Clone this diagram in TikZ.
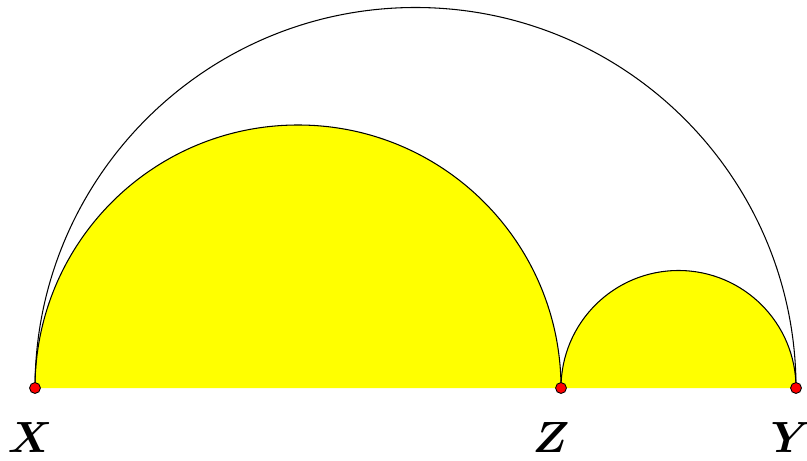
\documentclass[tikz,border=0pt]{standalone}
\usepackage{amsmath,bm}
\usepackage{xcolor}
\usepackage{tikz}
\definecolor{arbYellow}{HTML}{FFFF00}
\definecolor{arbRed}{HTML}{FF0000}

\begin{document}
\begin{tikzpicture}[
  x=0.02cm, y=0.02cm,
  arcline/.style={draw,black,line width=0.6pt},
  ptdot/.style={circle,draw=black,fill=arbRed,inner sep=0pt,
                minimum size=6.2pt,line width=0.5pt},
  ptlabel/.style={anchor=base,inner sep=0pt,
                  font=\fontsize{26}{26}\selectfont},
]
\useasboundingbox (0,0) rectangle (807,460);
\coordinate (X) at (35,72);
\coordinate (Z) at (561,72);
\coordinate (Y) at (796,72);

% shaded semicircles
\fill[arbYellow] (X) arc[start angle=180,end angle=0,radius=263]
  -- (Z) arc[start angle=180,end angle=0,radius=117.5] -- cycle;
\draw[arcline] (X) arc[start angle=180,end angle=0,radius=263];
\draw[arcline] (Z) arc[start angle=180,end angle=0,radius=117.5];
\draw[arcline] (X) arc[start angle=180,end angle=0,radius=380.5];

\node[ptdot] (dX) at (X) {};
\node[ptdot] (dZ) at (Z) {};
\node[ptdot] (dY) at (Y) {};
\node[ptlabel] (lX) at (30,8) {$\bm{X}$};
\node[ptlabel] (lZ) at (551,8) {$\bm{Z}$};
\node[ptlabel] (lY) at (791,8) {$\bm{Y}$};
\end{tikzpicture}
\end{document}
